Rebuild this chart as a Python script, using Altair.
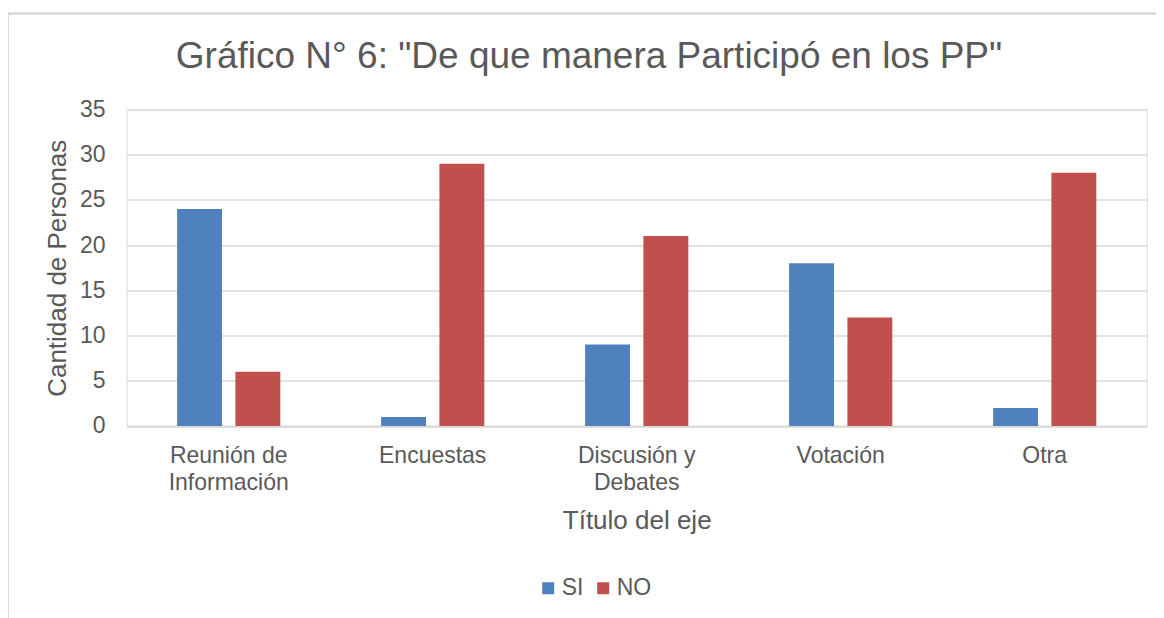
import altair as alt
import pandas as pd

categories = ["Reunión de Información", "Encuestas", "Discusión y Debates", "Votación", "Otra"]
label_lines = [["Reunión de", "Información"], ["Encuestas"], ["Discusión y", "Debates"], ["Votación"], ["Otra"]]
series = ["SI", "NO"]
si_values = [24, 1, 9, 18, 2]
no_values = [6, 29, 21, 12, 28]
colors = ["#4F81BD", "#C0504D"]
y_ticks = [0, 5, 10, 15, 20, 25, 30, 35]

rows = []
for c, s, n in zip(categories, si_values, no_values):
    rows.append({"Categoria": c, "Serie": "SI", "Valor": s})
    rows.append({"Categoria": c, "Serie": "NO", "Valor": n})
df = pd.DataFrame(rows)

parts = []
for c, lines in zip(categories, label_lines):
    arr = "[" + ",".join("'" + l + "'" for l in lines) + "]"
    parts.append(f"datum.label == '{c}' ? {arr} : ")
label_expr = "".join(parts) + "datum.label"

TXT = "#595959"
GRID = "#d9d9d9"
FONT = "Liberation Sans"
W, H = 1020, 316.5

bars = alt.Chart(df).mark_bar().encode(
    x=alt.X("Categoria:N", sort=categories,
            scale=alt.Scale(paddingInner=0.494, paddingOuter=0.247),
            axis=alt.Axis(title="Título del eje", labelExpr=label_expr, labelAngle=0,
                          ticks=False, domainColor=GRID, domainWidth=2,
                          labelFontSize=23, labelColor=TXT, labelPadding=19,
                          labelLineHeight=27, labelFont=FONT,
                          titleFontSize=26, titleFontWeight="normal", titleColor=TXT,
                          titleFont=FONT, titleY=103, titleBaseline="alphabetic")),
    xOffset=alt.XOffset("Serie:N", sort=series,
                        scale=alt.Scale(paddingInner=0.23, paddingOuter=0)),
    y=alt.Y("Valor:Q", scale=alt.Scale(domain=[0, 35]),
            axis=alt.Axis(title="Cantidad de Personas", values=y_ticks, grid=True,
                          gridColor=GRID, gridWidth=1.5, domain=False, ticks=False,
                          labelFontSize=23, labelColor=TXT, labelPadding=21.7,
                          labelFont=FONT,
                          titleFontSize=26, titleFontWeight="normal", titleColor=TXT,
                          titleFont=FONT, titleX=-68.7, titleY=H / 2,
                          titleBaseline="middle", titleAlign="center")),
    color=alt.Color("Serie:N", sort=series,
                    scale=alt.Scale(domain=series, range=colors),
                    legend=alt.Legend(orient="none", legendX=410, legendY=467,
                                      direction="horizontal", title=None,
                                      symbolType="square", symbolSize=144,
                                      symbolStrokeWidth=0, labelFontSize=23,
                                      labelColor=TXT, labelFont=FONT,
                                      columnPadding=8, labelOffset=2)),
)

frame_data = alt.Data(values=[{"k": 1}])
top_line = alt.Chart(frame_data).mark_rule(color=GRID, strokeWidth=2.5, clip=False).encode(
    x=alt.value(-119), x2=alt.value(W + 20), y=alt.value(-96))
left_line = alt.Chart(frame_data).mark_rule(color=GRID, strokeWidth=2.5, clip=False).encode(
    x=alt.value(-119), y=alt.value(-96), y2=alt.value(H + 200))

chart = alt.layer(bars, top_line, left_line).properties(
    width=W, height=H,
    title=alt.TitleParams(text='Gráfico N° 6: "De que manera Participó en los PP"',
                          fontSize=37, font=FONT, color=TXT, fontWeight="normal",
                          anchor="middle", dx=-47.7, offset=-92.5, baseline="alphabetic"),
    autosize=alt.AutoSizeParams(type="none"),
    padding={"left": 118.7, "top": 101.5, "right": 9, "bottom": 192},
).configure_view(stroke=None).configure(font=FONT, background="white")

chart.save("out.html", embed_options={"renderer": "svg", "actions": False})
